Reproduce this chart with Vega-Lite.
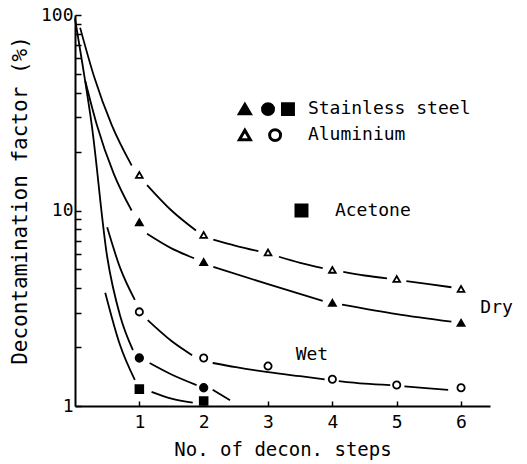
{
  "$schema": "https://vega.github.io/schema/vega-lite/v6.json",
  "width": 415,
  "height": 391,
  "autosize": {"type": "none"},
  "padding": {"left": 75, "top": 15, "right": 37, "bottom": 58},
  "background": "white",
  "config": {
    "view": {"stroke": null},
    "font": "DejaVu Sans Mono",
    "axis": {
      "domainColor": "black", "domainWidth": 2, "tickColor": "black", "tickWidth": 1.5,
      "labelColor": "black", "titleColor": "black", "labelFont": "DejaVu Sans Mono",
      "titleFont": "DejaVu Sans Mono", "titleFontWeight": "normal", "grid": false
    }
  },
  "datasets": {
    "curves": [
      {"series": "Al dry", "seg": "a1", "x": 0.08, "y": 86},
      {"series": "Al dry", "seg": "a1", "x": 0.3, "y": 48},
      {"series": "Al dry", "seg": "a1", "x": 0.57, "y": 27.4},
      {"series": "Al dry", "seg": "a1", "x": 0.88, "y": 17},
      {"series": "Al dry", "seg": "a2", "x": 1.12, "y": 13.5},
      {"series": "Al dry", "seg": "a2", "x": 1.5, "y": 10},
      {"series": "Al dry", "seg": "a2", "x": 1.88, "y": 7.9},
      {"series": "Al dry", "seg": "a3", "x": 2.15, "y": 7.1},
      {"series": "Al dry", "seg": "a3", "x": 2.5, "y": 6.6},
      {"series": "Al dry", "seg": "a3", "x": 2.85, "y": 6.2},
      {"series": "Al dry", "seg": "a4", "x": 3.17, "y": 5.8},
      {"series": "Al dry", "seg": "a4", "x": 3.5, "y": 5.4},
      {"series": "Al dry", "seg": "a4", "x": 3.85, "y": 5.07},
      {"series": "Al dry", "seg": "a5", "x": 4.17, "y": 4.85},
      {"series": "Al dry", "seg": "a5", "x": 4.5, "y": 4.65},
      {"series": "Al dry", "seg": "a5", "x": 4.85, "y": 4.5},
      {"series": "Al dry", "seg": "a6", "x": 5.15, "y": 4.35},
      {"series": "Al dry", "seg": "a6", "x": 5.5, "y": 4.2},
      {"series": "Al dry", "seg": "a6", "x": 5.85, "y": 4.05},
      {"series": "SS dry", "seg": "s1", "x": 0.16, "y": 46},
      {"series": "SS dry", "seg": "s1", "x": 0.34, "y": 27.4},
      {"series": "SS dry", "seg": "s1", "x": 0.6, "y": 15.5},
      {"series": "SS dry", "seg": "s1", "x": 0.88, "y": 10},
      {"series": "SS dry", "seg": "s2", "x": 1.12, "y": 7.6},
      {"series": "SS dry", "seg": "s2", "x": 1.5, "y": 6.4},
      {"series": "SS dry", "seg": "s2", "x": 1.85, "y": 5.7},
      {"series": "SS dry", "seg": "s3", "x": 2.15, "y": 5.15},
      {"series": "SS dry", "seg": "s3", "x": 3, "y": 4.2},
      {"series": "SS dry", "seg": "s3", "x": 3.85, "y": 3.45},
      {"series": "SS dry", "seg": "s4", "x": 4.15, "y": 3.3},
      {"series": "SS dry", "seg": "s4", "x": 5, "y": 2.95},
      {"series": "SS dry", "seg": "s4", "x": 5.85, "y": 2.7},
      {"series": "SS wet", "seg": "w1", "x": 0, "y": 96},
      {"series": "SS wet", "seg": "w1", "x": 0.12, "y": 55},
      {"series": "SS wet", "seg": "w1", "x": 0.26, "y": 27.4},
      {"series": "SS wet", "seg": "w1", "x": 0.5, "y": 5.8},
      {"series": "SS wet", "seg": "w1", "x": 0.7, "y": 2.9},
      {"series": "SS wet", "seg": "w1", "x": 0.9, "y": 1.93},
      {"series": "SS wet", "seg": "w2", "x": 1.16, "y": 1.66},
      {"series": "SS wet", "seg": "w2", "x": 1.5, "y": 1.45},
      {"series": "SS wet", "seg": "w2", "x": 1.89, "y": 1.28},
      {"series": "SS wet", "seg": "w3", "x": 2.14, "y": 1.21},
      {"series": "SS wet", "seg": "w3", "x": 2.41, "y": 1.07},
      {"series": "Al wet", "seg": "o1", "x": 0.5, "y": 8.2},
      {"series": "Al wet", "seg": "o1", "x": 0.7, "y": 5.1},
      {"series": "Al wet", "seg": "o1", "x": 0.93, "y": 3.49},
      {"series": "Al wet", "seg": "o2", "x": 1.13, "y": 2.75},
      {"series": "Al wet", "seg": "o2", "x": 1.5, "y": 2.15},
      {"series": "Al wet", "seg": "o2", "x": 1.82, "y": 1.82},
      {"series": "Al wet", "seg": "o3", "x": 2.14, "y": 1.66},
      {"series": "Al wet", "seg": "o3", "x": 2.5, "y": 1.58},
      {"series": "Al wet", "seg": "o3", "x": 3, "y": 1.49},
      {"series": "Al wet", "seg": "o3", "x": 3.5, "y": 1.42},
      {"series": "Al wet", "seg": "o3", "x": 3.88, "y": 1.37},
      {"series": "Al wet", "seg": "o4", "x": 4.1, "y": 1.34},
      {"series": "Al wet", "seg": "o4", "x": 4.5, "y": 1.3},
      {"series": "Al wet", "seg": "o4", "x": 4.9, "y": 1.28},
      {"series": "Al wet", "seg": "o5", "x": 5.12, "y": 1.26},
      {"series": "Al wet", "seg": "o5", "x": 5.5, "y": 1.23},
      {"series": "Al wet", "seg": "o5", "x": 5.8, "y": 1.21},
      {"series": "Acetone", "seg": "c1", "x": 0.47, "y": 3.8},
      {"series": "Acetone", "seg": "c1", "x": 0.7, "y": 2.05},
      {"series": "Acetone", "seg": "c1", "x": 0.93, "y": 1.36},
      {"series": "Acetone", "seg": "c2", "x": 1.19, "y": 1.18},
      {"series": "Acetone", "seg": "c2", "x": 1.5, "y": 1.09},
      {"series": "Acetone", "seg": "c2", "x": 1.83, "y": 1.04}
    ],
    "points": [
      {"series": "Al dry", "x": 1, "y": 15.2},
      {"series": "Al dry", "x": 2, "y": 7.5},
      {"series": "Al dry", "x": 3, "y": 6.1},
      {"series": "Al dry", "x": 4, "y": 4.97},
      {"series": "Al dry", "x": 5, "y": 4.46},
      {"series": "Al dry", "x": 6, "y": 3.97},
      {"series": "SS dry", "x": 1, "y": 8.7},
      {"series": "SS dry", "x": 2, "y": 5.45},
      {"series": "SS dry", "x": 4, "y": 3.37},
      {"series": "SS dry", "x": 6, "y": 2.66},
      {"series": "Al wet", "x": 1, "y": 3.03},
      {"series": "Al wet", "x": 2, "y": 1.76},
      {"series": "Al wet", "x": 3, "y": 1.6},
      {"series": "Al wet", "x": 4, "y": 1.37},
      {"series": "Al wet", "x": 5, "y": 1.28},
      {"series": "Al wet", "x": 6, "y": 1.24},
      {"series": "SS wet", "x": 1, "y": 1.76},
      {"series": "SS wet", "x": 2, "y": 1.24},
      {"series": "Acetone", "x": 1, "y": 1.22},
      {"series": "Acetone", "x": 2, "y": 1.06}
    ],
    "key": [
      {"series": "SS dry", "x": 2.64, "y": 33},
      {"series": "SS wet", "x": 3.0, "y": 33},
      {"series": "Acetone", "x": 3.31, "y": 33},
      {"series": "Al dry", "x": 2.64, "y": 24.3},
      {"series": "Al wet", "x": 3.11, "y": 24.3},
      {"series": "Acetone", "x": 3.52, "y": 10}
    ],
    "labels": [
      {"text": "Stainless steel", "x": 3.62, "y": 33},
      {"text": "Aluminium", "x": 3.62, "y": 24.3},
      {"text": "Acetone", "x": 4.04, "y": 10},
      {"text": "Dry", "x": 6.3, "y": 3.17},
      {"text": "Wet", "x": 3.43, "y": 1.82}
    ]
  },
  "layer": [
    {
      "data": {"name": "curves"},
      "mark": {"type": "line", "color": "black", "strokeWidth": 1.8, "interpolate": "monotone"},
      "encoding": {
        "x": {
          "field": "x", "type": "quantitative",
          "scale": {"domain": [0, 6.45], "nice": false, "zero": false},
          "axis": {
            "values": [1, 2, 3, 4, 5, 6], "format": "d", "tickSize": -5, "labelFontSize": 18,
            "labelPadding": 12, "title": "No. of decon. steps", "titleFontSize": 19,
            "titlePadding": 9
          }
        },
        "y": {
          "field": "y", "type": "quantitative",
          "scale": {"type": "log", "domain": [1, 100], "nice": false},
          "axis": {
            "values": [1, 2, 3, 4, 5, 6, 7, 8, 9, 10, 20, 30, 40, 50, 60, 70, 80, 90, 100],
            "labelExpr": "indexof([1, 10, 100], datum.value) >= 0 ? format(datum.value, 'd') : ''",
            "tickSize": -6, "labelFontSize": 18, "labelPadding": 8,
            "title": "Decontamination factor (%)", "titleFontSize": 21, "titlePadding": 10,
            "titleY": 185
          }
        },
        "detail": {"field": "seg"}
      }
    },
    {
      "data": {"name": "points"},
      "mark": {"type": "point", "strokeWidth": 1.8, "opacity": 1, "stroke": "black"},
      "encoding": {
        "x": {"field": "x", "type": "quantitative"},
        "y": {"field": "y", "type": "quantitative"},
        "shape": {
          "field": "series", "type": "nominal", "legend": null,
          "scale": {"domain": ["Al dry", "SS dry", "Al wet", "SS wet", "Acetone"],
                    "range": ["triangle-up", "triangle-up", "circle", "circle", "square"]}
        },
        "fill": {
          "field": "series", "type": "nominal", "legend": null,
          "scale": {"domain": ["Al dry", "SS dry", "Al wet", "SS wet", "Acetone"],
                    "range": ["white", "black", "white", "black", "black"]}
        },
        "size": {
          "field": "series", "type": "nominal", "legend": null,
          "scale": {"domain": ["Al dry", "SS dry", "Al wet", "SS wet", "Acetone"],
                    "range": [45, 60, 60, 80, 110]}
        }
      }
    },
    {
      "data": {"name": "key"},
      "mark": {"type": "point", "strokeWidth": 3, "opacity": 1, "stroke": "black", "size": 120},
      "encoding": {
        "x": {"field": "x", "type": "quantitative"},
        "y": {"field": "y", "type": "quantitative"},
        "shape": {"field": "series", "type": "nominal", "legend": null},
        "fill": {"field": "series", "type": "nominal", "legend": null}
      }
    },
    {
      "data": {"name": "labels"},
      "mark": {"type": "text", "align": "left", "baseline": "middle", "fontSize": 18, "font": "DejaVu Sans Mono", "color": "black"},
      "encoding": {
        "x": {"field": "x", "type": "quantitative"},
        "y": {"field": "y", "type": "quantitative"},
        "text": {"field": "text"}
      }
    }
  ]
}
